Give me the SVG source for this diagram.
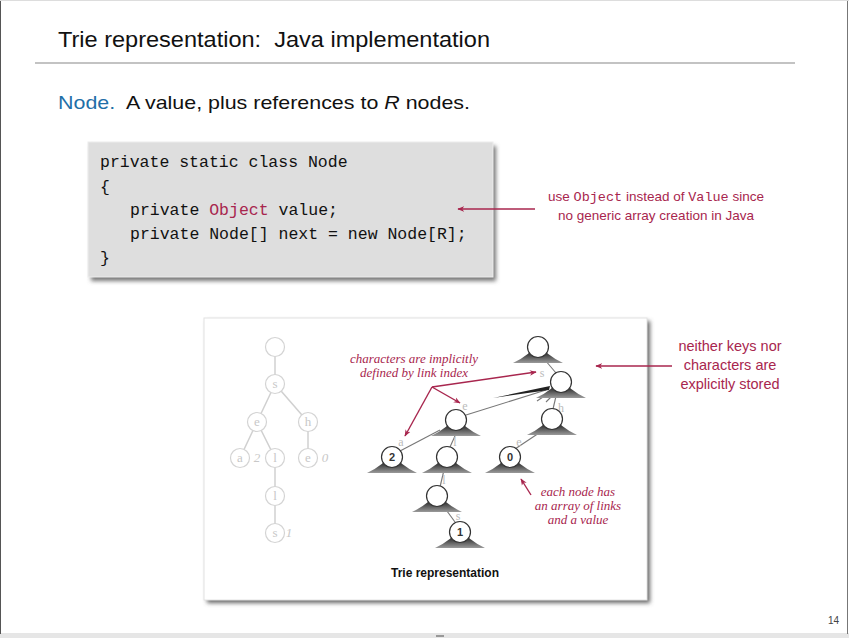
<svg xmlns="http://www.w3.org/2000/svg" width="849" height="638" viewBox="0 0 849 638">
<style>
.title{font-family:"Liberation Sans",Arial,sans-serif;font-size:22px;fill:#111}
.sub{font-family:"Liberation Sans",Arial,sans-serif;font-size:19px;fill:#111}
.code{font-family:"Liberation Mono","DejaVu Sans Mono",monospace;font-size:16.5px;fill:#111}
.red{fill:#a8264e}
.note{font-family:"Liberation Sans",Arial,sans-serif;font-size:13.5px;fill:#a8264e}
.note2{font-family:"Liberation Sans",Arial,sans-serif;font-size:14.5px;fill:#a8264e}
.inote{font-family:"Liberation Serif","Times New Roman",serif;font-style:italic;font-size:13px;fill:#a8264e}
.fade circle{fill:#fff;stroke:#d4d4d4;stroke-width:1.2}
.fade text{font-family:"Liberation Serif",serif;font-size:13px;fill:#c8c8c8;text-anchor:middle}
.fadeedge{stroke:#d0d0d0;stroke-width:1.5;fill:none}
.edge{stroke:#777;stroke-width:1.1;fill:none}
.lbl{font-family:"Liberation Serif",serif;font-size:12px;fill:#bbb;text-anchor:middle}
.val{font-family:"Liberation Sans",Arial,sans-serif;font-size:11px;font-weight:bold;fill:#333;text-anchor:middle}
.arr{stroke:#a8264e;stroke-width:1.4;fill:none}
</style>
<defs>
<linearGradient id="tri" x1="0" y1="0" x2="0" y2="1">
<stop offset="0" stop-color="#000"/>
<stop offset="0.6" stop-color="#444"/>
<stop offset="1" stop-color="#9a9a9a"/>
</linearGradient>
<marker id="ah" viewBox="0 0 10 10" refX="9" refY="5" markerWidth="7" markerHeight="7" orient="auto-start-reverse" markerUnits="userSpaceOnUse">
<path d="M0,1 L10,5 L0,9 L3,5 Z" fill="#a8264e"/>
</marker>
<g id="tnode">
<path d="M-25,16 Q-8,8 0,-4 Q8,8 25,16 Z" fill="url(#tri)"/>
<circle r="10.5" fill="#fff" stroke="#333" stroke-width="1.2"/>
</g>
<filter id="sh" x="-5%" y="-5%" width="115%" height="120%">
<feGaussianBlur stdDeviation="2"/>
</filter>
</defs>

<!-- slide background -->
<rect x="0" y="0" width="849" height="638" fill="#fff"/>
<rect x="0" y="633" width="849" height="5" fill="#e6e6e6"/>
<line x1="0.5" y1="0" x2="0.5" y2="634" stroke="#555" stroke-width="1"/>
<line x1="847.5" y1="0" x2="847.5" y2="634" stroke="#777" stroke-width="1"/>
<line x1="0" y1="0.5" x2="849" y2="0.5" stroke="#ddd" stroke-width="1"/>
<rect x="436" y="635" width="8" height="2" fill="#999"/>

<!-- title -->
<text class="title" x="58" y="47" textLength="432" lengthAdjust="spacingAndGlyphs" xml:space="preserve">Trie representation:  Java implementation</text>
<line x1="35" y1="63" x2="795" y2="63" stroke="#888" stroke-width="1.2"/>
<text class="sub" x="58" y="109" textLength="412" lengthAdjust="spacingAndGlyphs" xml:space="preserve"><tspan fill="#1f6fa8">Node.</tspan>  A value, plus references to <tspan font-style="italic">R</tspan> nodes.</text>

<!-- code box -->
<g id="codebox">
<rect x="91" y="146" width="405" height="135" fill="#777" filter="url(#sh)"/>
<rect x="88" y="142" width="405" height="135" fill="#dedede" stroke="#ececec" stroke-width="1"/>
<text class="code" x="100" y="167">private static class Node</text>
<text class="code" x="100" y="192">{</text>
<text class="code" x="130" y="215">private <tspan class="red" fill="#a8264e">Object</tspan> value;</text>
<text class="code" x="130" y="239">private Node[] next = new Node[R];</text>
<text class="code" x="100" y="263">}</text>
</g>

<g id="note-object">
<text class="note" x="656" y="201" text-anchor="middle">use <tspan font-family="Liberation Mono,monospace">Object</tspan> instead of <tspan font-family="Liberation Mono,monospace">Value</tspan> since</text>
<text class="note" x="656" y="220" text-anchor="middle">no generic array creation in Java</text>
</g>

<!-- figure panel -->
<g id="panel">
<rect x="207" y="321" width="443" height="282" fill="#666" filter="url(#sh)"/>
<rect x="204" y="318" width="443" height="282" fill="#fff" stroke="#e2e2e2" stroke-width="1"/>
</g>

<!-- faded trie on left -->
<g id="faded-trie">
<g class="fadeedge">
<line x1="275" y1="347" x2="275" y2="384"/>
<line x1="275" y1="384" x2="257" y2="422"/>
<line x1="275" y1="384" x2="308" y2="422"/>
<line x1="257" y1="422" x2="240" y2="458"/>
<line x1="257" y1="422" x2="275" y2="458"/>
<line x1="308" y1="422" x2="308" y2="458"/>
<line x1="275" y1="458" x2="275" y2="496"/>
<line x1="275" y1="496" x2="275" y2="533"/>
</g>
<g class="fade">
<g id="f-root"><circle cx="275" cy="347" r="9.5"/></g>
<g id="f-s"><circle cx="275" cy="384" r="9.5"/><text x="275" y="388">s</text></g>
<g id="f-e"><circle cx="257" cy="422" r="9.5"/><text x="257" y="426">e</text></g>
<g id="f-h"><circle cx="308" cy="422" r="9.5"/><text x="308" y="426">h</text></g>
<g id="f-a"><circle cx="240" cy="458" r="9.5"/><text x="240" y="462">a</text><text x="257" y="462" font-size="10" font-style="italic">2</text></g>
<g id="f-l1"><circle cx="275" cy="458" r="9.5"/><text x="275" y="462">l</text></g>
<g id="f-e2"><circle cx="308" cy="458" r="9.5"/><text x="308" y="462">e</text><text x="325" y="462" font-size="10" font-style="italic">0</text></g>
<g id="f-l2"><circle cx="275" cy="496" r="9.5"/><text x="275" y="500">l</text></g>
<g id="f-s2"><circle cx="275" cy="533" r="9.5"/><text x="275" y="537">s</text><text x="289" y="537" font-size="10" font-style="italic">1</text></g>
</g>
</g>

<!-- connectors of right trie -->
<g id="connectors">
<line class="edge" x1="545" y1="360" x2="556" y2="373"/>
<line class="edge" x1="557" y1="392" x2="553" y2="409"/>
<line class="edge" x1="466" y1="415" x2="546" y2="390"/>
<path d="M493,398 L550,386 L549,390 Z" fill="#222"/>
<line class="edge" x1="537" y1="401" x2="549" y2="393" stroke="#999"/>
<line class="edge" x1="546" y1="402" x2="553" y2="395" stroke="#999"/>
<line class="edge" x1="400" y1="451" x2="440" y2="430"/>
<line class="edge" x1="455" y1="436" x2="450" y2="447"/>
<line class="edge" x1="515" y1="449" x2="542" y2="431"/>
<line class="edge" x1="444" y1="470" x2="440" y2="487"/>
<line class="edge" x1="444" y1="507" x2="455" y2="522"/>
<text class="lbl" x="561" y="412">h</text>
<text class="lbl" x="542" y="377">s</text>
<text class="lbl" x="465" y="410">e</text>
<text class="lbl" x="401" y="446">a</text>
<text class="lbl" x="455" y="446">l</text>
<text class="lbl" x="519" y="446">e</text>
<text class="lbl" x="444" y="484">l</text>
<text class="lbl" x="458" y="520">s</text>
</g>

<!-- right trie nodes -->
<g id="n-root"><use href="#tnode" x="538" y="347"/></g>
<g id="n-s"><use href="#tnode" x="561" y="382"/></g>
<g id="n-e"><use href="#tnode" x="456" y="420"/></g>
<g id="n-h"><use href="#tnode" x="552" y="419"/></g>
<g id="n-a"><use href="#tnode" x="392" y="457"/><text class="val" x="392" y="461">2</text></g>
<g id="n-l1"><use href="#tnode" x="447" y="457"/></g>
<g id="n-e2"><use href="#tnode" x="510" y="457"/><text class="val" x="510" y="461">0</text></g>
<g id="n-l2"><use href="#tnode" x="437" y="496"/></g>
<g id="n-s2"><use href="#tnode" x="460" y="532"/><text class="val" x="460" y="536">1</text></g>

<text x="445" y="577" font-family="Liberation Sans,Arial,sans-serif" font-size="12" font-weight="bold" fill="#111" text-anchor="middle">Trie representation</text>

<!-- annotations -->
<g id="note-chars">
<text class="inote" x="414" y="363" text-anchor="middle">characters are implicitly</text>
<text class="inote" x="414" y="377" text-anchor="middle">defined by link index</text>
<line class="arr" x1="432" y1="387" x2="405" y2="436" marker-end="url(#ah)"/>
<line class="arr" x1="432" y1="387" x2="460" y2="403" marker-end="url(#ah)"/>
<line class="arr" x1="432" y1="387" x2="536" y2="372" marker-end="url(#ah)"/>
</g>
<g id="note-each">
<text class="inote" x="578" y="496" text-anchor="middle">each node has</text>
<text class="inote" x="578" y="510" text-anchor="middle">an array of links</text>
<text class="inote" x="578" y="524" text-anchor="middle">and a value</text>
<line class="arr" x1="531" y1="495" x2="521" y2="479" marker-end="url(#ah)"/>
</g>
<g id="note-neither">
<text class="note2" x="730" y="351" text-anchor="middle">neither keys nor</text>
<text class="note2" x="730" y="370" text-anchor="middle">characters are</text>
<text class="note2" x="730" y="389" text-anchor="middle">explicitly stored</text>
<line class="arr" x1="672" y1="366" x2="596" y2="366" marker-end="url(#ah)"/>
</g>
<line class="arr" x1="535" y1="209" x2="458" y2="209" marker-end="url(#ah)"/>

<text x="828" y="624" font-family="Liberation Sans,Arial,sans-serif" font-size="10" fill="#444">14</text>
</svg>
